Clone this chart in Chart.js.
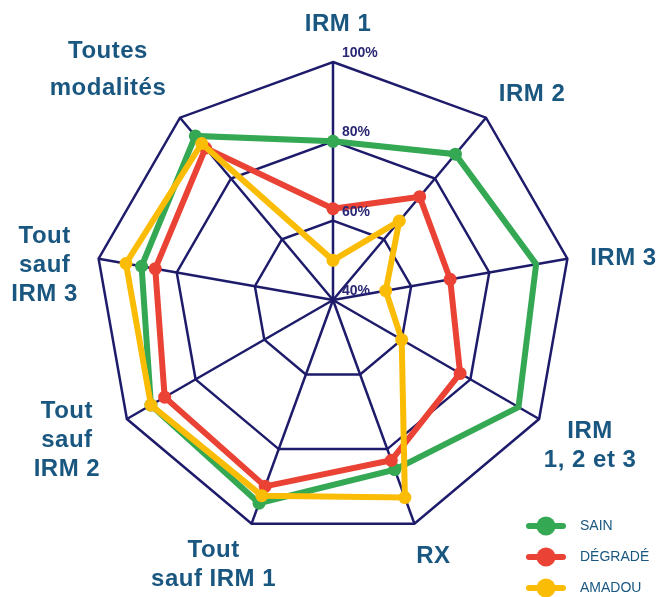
<!DOCTYPE html>
<html>
<head>
<meta charset="utf-8">
<script src="https://cdn.jsdelivr.net/npm/chart.js@4.4.1/dist/chart.umd.min.js"></script>
<style>
  html, body { margin: 0; padding: 0; background: #ffffff; }
  #wrap { width: 660px; height: 597px; position: relative; }
</style>
</head>
<body>
<div id="wrap"><canvas id="c" width="660" height="597"></canvas></div>
<script>
// ---- data ----
const categories = ['IRM 1', 'IRM 2', 'IRM 3', 'IRM 1, 2 et 3', 'RX', 'Tout sauf IRM 1', 'Tout sauf IRM 2', 'Tout sauf IRM 3', 'Toutes modalités'];
const categoryLines = [['IRM 1'], ['IRM 2'], ['IRM 3'], ['IRM', '1, 2 et 3'], ['RX'], ['Tout', 'sauf IRM 1'], ['Tout', 'sauf', 'IRM 2'], ['Tout', 'sauf', 'IRM 3'], ['Toutes', 'modalités']];
const seriesNames = ['SAIN', 'DÉGRADÉ', 'AMADOU'];
const sain    = [80, 88, 92, 94, 85.5, 94.5, 93, 89, 94];
const degrade = [63, 74, 70, 77, 83, 90, 89, 85.5, 90];
const amadou  = [50, 66, 53.5, 60, 93, 92.5, 93, 93, 91.5];
const tickValues = [40, 60, 80, 100];

// ---- styles ----
const COLORS = ['#34a853', '#ea4335', '#fbbc05'];
const GRID = '#1e1b6b';
const LABEL_COLOR = '#1a5780';
const TICK_COLOR = '#2a2774';
const FONT = '"Liberation Sans", Arial, sans-serif';
// label block offsets from each outer vertex (px) and line heights
const labelOffsets = [[5, -38], [46, -23], [56, 0], [51, 27], [19, 33], [-38, 41], [-60, 21], [-54, 7], [-72, -48]];
const labelLineHeights = [29, 29, 29, 29, 29, 29, 29, 29, 37.6];

function legendSymbol(color) {
  const c = document.createElement('canvas');
  c.width = 40; c.height = 20;
  const g = c.getContext('2d');
  g.strokeStyle = color; g.lineWidth = 6; g.lineCap = 'round';
  g.beginPath(); g.moveTo(3, 10); g.lineTo(37, 10); g.stroke();
  g.fillStyle = color;
  g.beginPath(); g.arc(20, 10, 9.5, 0, Math.PI * 2); g.fill();
  return c;
}
const symbols = COLORS.map(legendSymbol);

const textPlugin = {
  id: 'textPlugin',
  afterDatasetsDraw(chart) {
    const s = chart.scales.r;
    const ctx = chart.ctx;
    ctx.save();
    ctx.font = 'bold 14px ' + FONT;
    ctx.fillStyle = TICK_COLOR;
    ctx.textAlign = 'left';
    ctx.textBaseline = 'middle';
    s.ticks.forEach(t => {
      const d = s.getDistanceFromCenterForValue(t.value);
      ctx.fillText(t.label, s.xCenter + 9, s.yCenter - d - 9);
    });
    ctx.font = 'bold 24px ' + FONT;
    try { ctx.letterSpacing = '0.5px'; } catch (e) {}
    ctx.fillStyle = LABEL_COLOR;
    ctx.textAlign = 'center';
    categoryLines.forEach((lines, i) => {
      const p = s.getPointPosition(i, s.drawingArea);
      const cx = p.x + labelOffsets[i][0];
      const cy = p.y + labelOffsets[i][1];
      const lh = labelLineHeights[i];
      lines.forEach((ln, k) => {
        ctx.fillText(ln, cx, cy - (lines.length - 1) * lh / 2 + k * lh);
      });
    });
    ctx.restore();
  }
};

const seriesData = [sain, degrade, amadou];
const datasets = seriesNames.map((name, i) => ({
  label: name,
  data: seriesData[i],
  borderColor: COLORS[i],
  backgroundColor: COLORS[i],
  pointBackgroundColor: COLORS[i],
  pointBorderWidth: 0,
  pointRadius: 6.5,
  pointHoverRadius: 6.5,
  borderWidth: 6,
  fill: false,
  order: 3 - i
}));

new Chart(document.getElementById('c'), {
  type: 'radar',
  data: { labels: categories, datasets },
  options: {
    responsive: false,
    animation: false,
    layout: { padding: { top: 0, right: 8, bottom: -15, left: 0 } },
    plugins: {
      tooltip: { enabled: false },
      legend: {
        position: 'right',
        align: 'end',
        maxWidth: 150,
        labels: {
          usePointStyle: true,
          pointStyleWidth: 54,
          padding: 17,
          color: LABEL_COLOR,
          font: { size: 14, family: FONT },
          generateLabels(chart) {
            return chart.data.datasets.map((ds, i) => ({
              text: ds.label,
              fillStyle: COLORS[i],
              strokeStyle: COLORS[i],
              lineWidth: 0,
              pointStyle: symbols[i],
              fontColor: LABEL_COLOR,
              hidden: !chart.isDatasetVisible(i),
              datasetIndex: i
            }));
          }
        }
      }
    },
    scales: {
      r: {
        min: tickValues[0],
        max: tickValues[tickValues.length - 1],
        ticks: { stepSize: 20, display: false, callback: v => v + '%' },
        pointLabels: { display: false },
        grid: { circular: false, color: GRID, lineWidth: 2.5 },
        angleLines: { color: GRID, lineWidth: 2.5 },
        afterFit(scale) {
          scale.xCenter = 333;
          scale.yCenter = 300;
          scale.drawingArea = 238;
        }
      }
    }
  },
  plugins: [textPlugin]
});
</script>
</body>
</html>
